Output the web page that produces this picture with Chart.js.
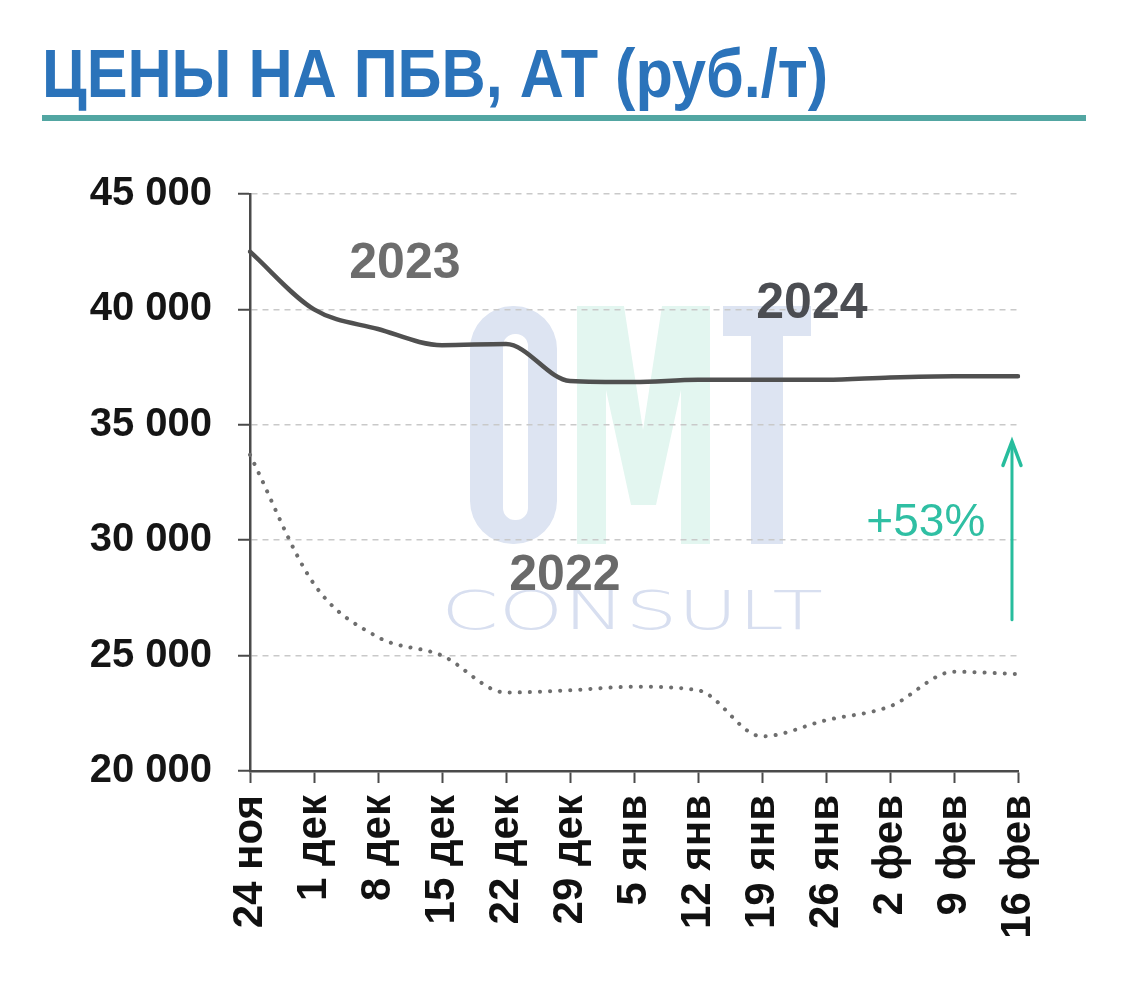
<!DOCTYPE html>
<html>
<head>
<meta charset="utf-8">
<style>
  html, body { margin: 0; padding: 0; background: #ffffff; }
  #c { display: block; }
</style>
<script src="https://cdn.jsdelivr.net/npm/chart.js@4/dist/chart.umd.min.js"></script>
</head>
<body>
<canvas id="c" width="1126" height="982"></canvas>
<script>
// ---- data ----
const titleText = 'ЦЕНЫ НА ПБВ, АТ (руб./т)';
const categories = ['24 ноя', '1 дек', '8 дек', '15 дек', '22 дек', '29 дек', '5 янв', '12 янв', '19 янв', '26 янв', '2 фев', '9 фев', '16 фев'];
const series2324 = [42500, 40000, 39150, 38450, 38500, 36900, 36850, 36950, 36950, 36950, 37050, 37100, 37100];
const series2223 = [33700, 28100, 25800, 25000, 23400, 23500, 23650, 23500, 21500, 22200, 22800, 24300, 24200];
const yTicks = [20000, 25000, 30000, 35000, 40000, 45000];
const labelTexts = ['2023', '2024', '2022'];
const changeText = '+53%';
const watermarkText = 'CONSULT';

const fmt = v => String(v).replace(/\B(?=(\d{3})+(?!\d))/g, ' ');

Chart.defaults.font.family = '"Liberation Sans", Arial, sans-serif';

// decorative watermark (drawn first, under grid and lines)
const watermark = {
  id: 'watermark',
  beforeDraw(chart) {
    const ctx = chart.ctx;
    ctx.save();
    // O
    ctx.fillStyle = '#dde4f2';
    ctx.beginPath();
    ctx.roundRect(470, 306, 87, 238, 43);
    ctx.roundRect(503, 334, 25, 186, 12);
    ctx.fill('evenodd');
    // M
    ctx.fillStyle = '#e3f6f0';
    ctx.beginPath();
    ctx.moveTo(577, 306); ctx.lineTo(624, 306); ctx.lineTo(643, 430); ctx.lineTo(662, 306);
    ctx.lineTo(710, 306); ctx.lineTo(710, 544); ctx.lineTo(681, 544); ctx.lineTo(681, 390);
    ctx.lineTo(656, 505); ctx.lineTo(631, 505); ctx.lineTo(606, 390); ctx.lineTo(606, 544);
    ctx.lineTo(577, 544); ctx.closePath();
    ctx.fill();
    // T
    ctx.fillStyle = '#dde4f2';
    ctx.fillRect(723, 306, 88, 30);
    ctx.fillRect(751, 306, 32, 238);
    // CONSULT
    ctx.fillStyle = '#d8dff0';
    ctx.font = '300 52px "DejaVu Sans", sans-serif';
    ctx.textBaseline = 'alphabetic';
    const w = ctx.measureText(watermarkText).width;
    ctx.translate(441, 629);
    ctx.scale(382 / w, 1.02);
    ctx.fillText(watermarkText, 0, 0);
    ctx.restore();
  }
};

// title + annotations
const decorations = {
  id: 'decorations',
  afterDraw(chart) {
    const ctx = chart.ctx;
    const xs = chart.scales.x, ys = chart.scales.y;
    ctx.save();
    // title
    ctx.fillStyle = '#2b73ba';
    ctx.font = 'bold 68px "Liberation Sans", Arial, sans-serif';
    ctx.textBaseline = 'alphabetic';
    const tw = ctx.measureText(titleText).width;
    ctx.save();
    ctx.translate(42, 97);
    ctx.scale(786 / tw, 1);
    ctx.fillText(titleText, 0, 0);
    ctx.restore();
    // teal rule under title
    ctx.fillStyle = '#52a6a2';
    ctx.fillRect(42, 115, 1044, 6);

    // series labels, placed in data space
    const px = i => xs.getPixelForValue(i);
    const py = v => ys.getPixelForValue(v);
    ctx.textAlign = 'center';
    ctx.textBaseline = 'middle';
    ctx.font = 'bold 50px "Liberation Sans", Arial, sans-serif';
    ctx.fillStyle = '#6d6d6d';
    ctx.fillText(labelTexts[0], px(2.42), py(41950));
    ctx.fillStyle = '#4b4d52';
    ctx.fillText(labelTexts[1], px(8.78), py(40230));
    ctx.fillStyle = '#6a6a6a';
    ctx.fillText(labelTexts[2], px(4.92), py(28450));

    // +53% and arrow
    ctx.fillStyle = '#2fbfa3';
    ctx.font = '46px "Liberation Sans", Arial, sans-serif';
    ctx.fillText(changeText, px(10.56), py(30750));
    const ax = px(11.906);
    const y0 = py(26550), y1 = py(34280);
    ctx.strokeStyle = '#27bd9d';
    ctx.lineWidth = 3;
    ctx.lineCap = 'round';
    ctx.beginPath();
    ctx.moveTo(ax, y0); ctx.lineTo(ax, y1 + 1);
    ctx.stroke();
    ctx.lineWidth = 3.5;
    ctx.lineJoin = 'miter';
    ctx.beginPath();
    ctx.moveTo(ax - 9, y1 + 24); ctx.lineTo(ax, y1); ctx.lineTo(ax + 9, y1 + 24);
    ctx.stroke();
    ctx.restore();
  }
};

new Chart(document.getElementById('c'), {
  type: 'line',
  data: {
    labels: categories,
    datasets: [
      {
        label: '2023-2024',
        data: series2324,
        borderColor: '#505050',
        borderWidth: 4.5,
        pointRadius: 0,
        cubicInterpolationMode: 'monotone',
        borderCapStyle: 'round',
        fill: false
      },
      {
        label: '2022-2023',
        data: series2223,
        borderColor: '#6e6e6e',
        borderWidth: 4,
        borderDash: [0.1, 10],
        borderCapStyle: 'round',
        pointRadius: 0,
        cubicInterpolationMode: 'monotone',
        fill: false
      }
    ]
  },
  options: {
    responsive: false,
    animation: false,
    events: [],
    layout: { padding: { top: 194, right: 108, left: 0, bottom: 0 } },
    plugins: {
      legend: { display: false },
      tooltip: { enabled: false },
      title: { display: false }
    },
    scales: {
      x: {
        offset: false,
        afterFit(scale) { scale.height = 211; },
        grid: {
          display: true,
          drawOnChartArea: false,
          drawTicks: true,
          tickLength: 12,
          tickColor: '#4a4a4a',
          tickWidth: 2
        },
        border: { display: true, color: '#4a4a4a', width: 2.5 },
        ticks: {
          autoSkip: false,
          minRotation: 90,
          maxRotation: 90,
          padding: 12,
          color: '#111111',
          font: { size: 42, weight: 'bold' }
        }
      },
      y: {
        min: 20000,
        max: 45000,
        afterFit(scale) { scale.width = 250; },
        afterBuildTicks(scale) { scale.ticks = yTicks.map(v => ({ value: v })); },
        grid: {
          color: '#c9c9c9',
          lineWidth: 1.5,
          tickLength: 12,
          tickColor: '#4a4a4a',
          tickWidth: 2,
          tickBorderDash: []
        },
        border: { display: true, color: '#4a4a4a', width: 2.5, dash: [6, 5] },
        ticks: {
          padding: 26,
          color: '#151515',
          font: { size: 40, weight: 'bold' },
          callback: v => fmt(v)
        }
      }
    }
  },
  plugins: [watermark, decorations]
});
</script>
</body>
</html>
